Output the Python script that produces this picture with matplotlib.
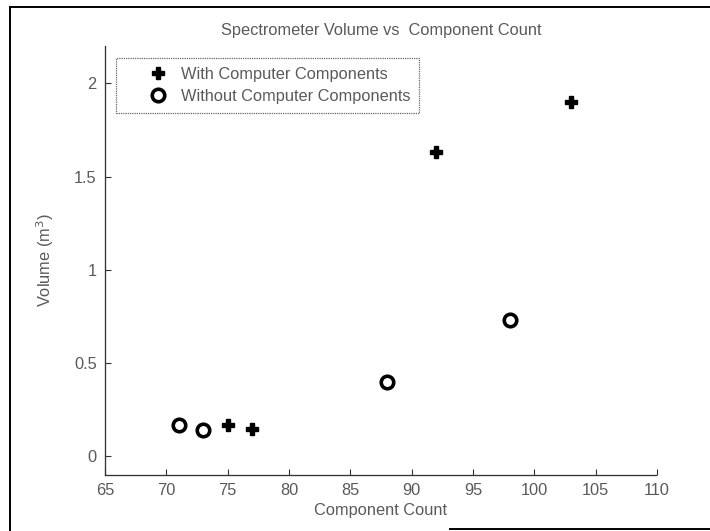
import matplotlib
matplotlib.use("Agg")
import matplotlib.pyplot as plt
from matplotlib.lines import Line2D
from matplotlib.legend_handler import HandlerLine2D

plt.rcParams['font.family'] = ['Liberation Sans', 'DejaVu Sans']

with_x = [75, 77, 92, 103]
with_y = [0.17, 0.145, 1.63, 1.9]
without_x = [71, 73, 88, 98]
without_y = [0.167, 0.14, 0.40, 0.73]

xticks = [65, 70, 75, 80, 85, 90, 95, 100, 105, 110]
yticks = [0, 0.5, 1, 1.5, 2]
ytick_labels = ['0', '0.5', '1', '1.5', '2']

W, H = 710, 531
fig = plt.figure(figsize=(W / 100, H / 100), dpi=100)
ax = fig.add_axes([105 / W, 1 - 475 / H, (657 - 105) / W, (475 - 46) / H])

tc = '#5a5a5a'
fs = 11.8
ax.plot(with_x, with_y, linestyle='none', marker='P', markersize=9,
        color='black', markeredgecolor='black', label='With Computer Components')
ax.plot(without_x, without_y, linestyle='none', marker='o', markersize=9,
        markerfacecolor='white', markeredgecolor='black', markeredgewidth=2.6,
        label='Without Computer Components')

ax.set_xlim(65, 110)
ax.set_ylim(-0.1, 2.2)
ax.set_xticks(xticks)
ax.set_yticks(yticks)
ax.set_yticklabels(ytick_labels)
ax.spines['top'].set_visible(False)
ax.spines['right'].set_visible(False)
for s in ('left', 'bottom'):
    ax.spines[s].set_linestyle((0, (1, 0.6)))
    ax.spines[s].set_linewidth(0.9)
    ax.spines[s].set_color('#333333')
ax.tick_params(direction='in', length=4, width=0.8, colors='#333333',
               labelcolor=tc, labelsize=fs, pad=6)

ax.set_title('Spectrometer Volume vs  Component Count', color=tc, fontsize=fs, pad=8)
ax.set_xlabel('Component Count', color=tc, fontsize=fs, labelpad=3)
ax.set_ylabel('Volume (m$^3$)', color=tc, fontsize=fs, labelpad=13)

leg = ax.legend(loc='upper left', bbox_to_anchor=(11 / 552, (475 - 58) / 429),
                fontsize=fs, frameon=True, fancybox=False, borderpad=0.55,
                handletextpad=0.3, labelspacing=0.4, handlelength=3.1,
                borderaxespad=0,
                handler_map={Line2D: HandlerLine2D(xpad=0.91)})
for t in leg.get_texts():
    t.set_color(tc)
fr = leg.get_frame()
fr.set_edgecolor('#444444')
fr.set_linestyle((0, (1, 0.8)))
fr.set_linewidth(0.9)

# scanned page border
def px(x, y):
    return x / W, 1 - y / H
for (x0, y0), (x1, y1) in [((10, 7), (10, 531)), ((10, 7), (710, 7)), ((450, 529), (710, 529))]:
    a, b = px(x0, y0)
    c, d = px(x1, y1)
    fig.add_artist(Line2D([a, c], [b, d], color='black', linewidth=1.4,
                          transform=fig.transFigure))

fig.savefig('out.png', dpi=100)
